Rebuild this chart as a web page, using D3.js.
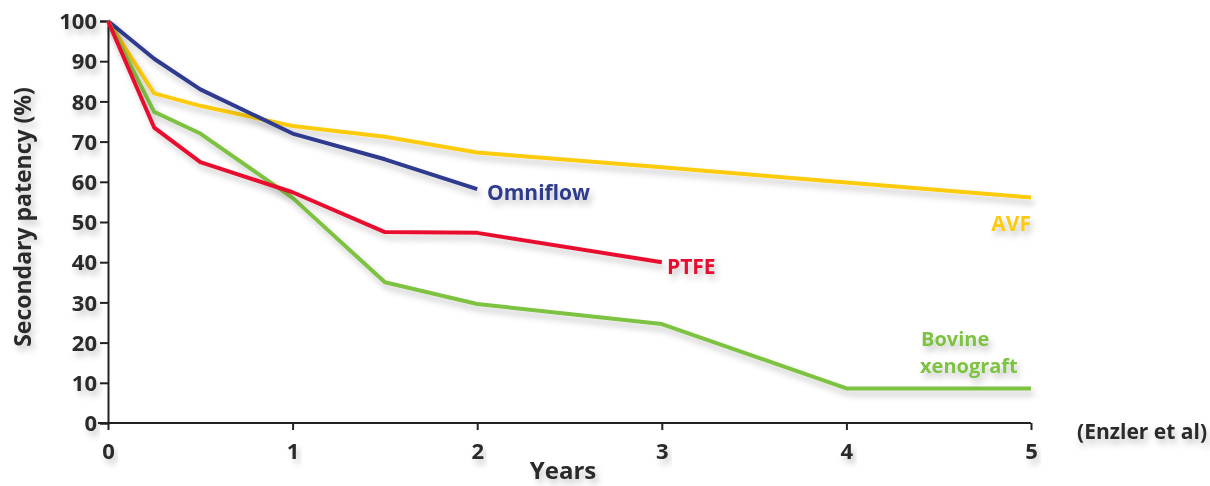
<!DOCTYPE html>
<html>
<head>
<meta charset="utf-8">
<script src="https://cdn.jsdelivr.net/npm/d3@7"></script>
<style>
  body { margin: 0; background: #fff; }
  text { font-family: "Open Sans", sans-serif; font-weight: bold; }
</style>
</head>
<body>
<svg id="chart" width="1210" height="486"></svg>
<script>
// values
let years = [0, 0.25, 0.5, 1, 1.5, 2, 3, 4, 5];

let omniflow = [100, 90.6, 83, 72, 65.6, 58.2];
let ptfe     = [100, 73.5, 64.9, 57.4, 47.5, 47.3, 40];
let avf      = [100, 82, 78.9, 73.9, 71.2, 67.3, 63.6, 59.8, 56.1];
let bovine   = [100, 77.4, 72, 56, 35, 29.6, 24.6, 8.6, 8.6];

let seriesNames  = ['AVF', 'Omniflow', 'Bovine', 'PTFE'];
let seriesColors = ['#fdcb0a', '#2e3a8f', '#7ec242', '#e8102e'];

let xTicks = [0, 1, 2, 3, 4, 5];
let yTicks = [0, 10, 20, 30, 40, 50, 60, 70, 80, 90, 100];

let series = [
  { name: 'AVF', values: avf },
  { name: 'Omniflow', values: omniflow },
  { name: 'Bovine', values: bovine },
  { name: 'PTFE', values: ptfe }
].map(s => ({
  name: s.name,
  points: s.values.map((v, i) => ({ x: years[i], y: v }))
}));

let color = d3.scaleOrdinal().domain(seriesNames).range(seriesColors);

let svg = d3.select('#chart');

// soft grey shadow, like the original artwork
let defs = svg.append('defs');
let f = defs.append('filter').attr('id', 'shadow')
  .attr('x', '-20%').attr('y', '-20%').attr('width', '140%').attr('height', '160%');
f.append('feDropShadow')
  .attr('dx', 3).attr('dy', 5).attr('stdDeviation', 3)
  .attr('flood-color', '#000').attr('flood-opacity', 0.22);

let x = d3.scaleLinear().domain([0, 5]).range([108, 1031]);
let y = d3.scaleLinear().domain([0, 100]).range([423, 21]);

// axes
let yAxis = svg.append('g')
  .attr('transform', 'translate(108,0)')
  .call(d3.axisLeft(y).tickValues(yTicks).tickSize(8).tickPadding(3));

let xAxis = svg.append('g')
  .attr('transform', 'translate(0,423)')
  .call(d3.axisBottom(x).tickValues(xTicks).tickFormat(d3.format('d')).tickSize(7).tickPadding(16));

[yAxis, xAxis].forEach(a => {
  a.select('.domain').attr('stroke', '#222').attr('stroke-width', 2);
  a.selectAll('.tick line').attr('stroke', '#222').attr('stroke-width', 2);
  a.selectAll('.tick text')
    .attr('fill', '#2a2a2a')
    .style('font-size', '22px')
    .style('font-weight', 'bold')
    .style('font-family', '"Open Sans", sans-serif')
    .attr('filter', 'url(#shadow)');
});
xAxis.select('.domain').attr('d', 'M98,0H1031');
yAxis.selectAll('.tick text').attr('dy', '0.35em');
xAxis.selectAll('.tick text').attr('dy', '0.6em');

// lines
let line = d3.line().x(d => x(d.x)).y(d => y(d.y));

svg.append('g').selectAll('path')
  .data(series)
  .enter()
  .append('path')
  .attr('d', d => line(d.points))
  .attr('fill', 'none')
  .attr('stroke', d => color(d.name))
  .attr('stroke-width', 4)
  .attr('stroke-linejoin', 'round')
  .attr('filter', 'url(#shadow)');

// series labels
let labels = svg.append('g').attr('filter', 'url(#shadow)');

labels.append('text')
  .attr('x', 487).attr('y', 200)
  .attr('fill', color('Omniflow'))
  .style('font-size', '21px')
  .text('Omniflow');

labels.append('text')
  .attr('x', 667).attr('y', 274)
  .attr('fill', color('PTFE'))
  .style('font-size', '21px')
  .text('PTFE');

labels.append('text')
  .attr('x', 1031).attr('y', 231)
  .attr('text-anchor', 'end')
  .attr('fill', color('AVF'))
  .style('font-size', '21px')
  .text('AVF');

labels.append('text')
  .attr('x', 921).attr('y', 346)
  .attr('fill', color('Bovine'))
  .style('font-size', '20px')
  .text('Bovine');

labels.append('text')
  .attr('x', 920).attr('y', 373)
  .attr('fill', color('Bovine'))
  .style('font-size', '20px')
  .text('xenograft');

// axis titles and source
let titles = svg.append('g').attr('filter', 'url(#shadow)');

titles.append('text')
  .attr('x', 563).attr('y', 479)
  .attr('text-anchor', 'middle')
  .attr('fill', '#2a2a2a')
  .style('font-size', '24px')
  .text('Years');

titles.append('text')
  .attr('transform', 'translate(31,217) rotate(-90)')
  .attr('text-anchor', 'middle')
  .attr('fill', '#2a2a2a')
  .style('font-size', '23px')
  .text('Secondary patency (%)');

titles.append('text')
  .attr('x', 1207).attr('y', 439)
  .attr('text-anchor', 'end')
  .attr('fill', '#2a2a2a')
  .style('font-size', '21px')
  .text('(Enzler et al)');
</script>
</body>
</html>
